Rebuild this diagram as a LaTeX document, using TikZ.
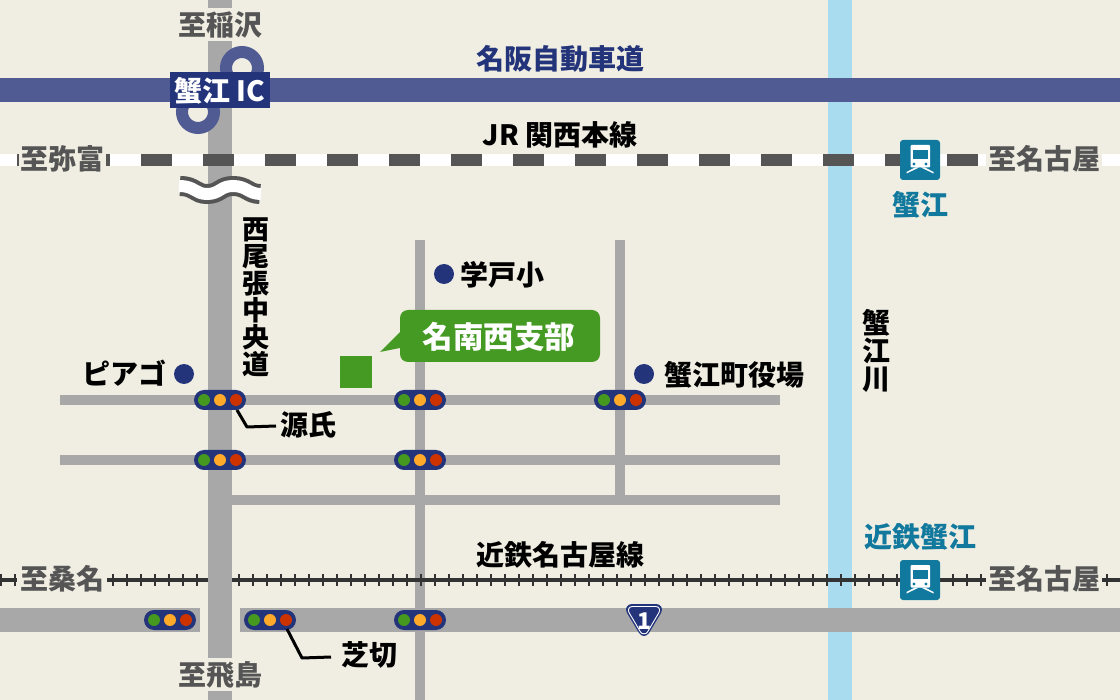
\documentclass[tikz,border=0pt]{standalone}
\usepackage{fontspec}
\setmainfont{Noto Sans CJK JP}
\definecolor{bgc}{HTML}{F0EEE2}
\definecolor{riverc}{HTML}{A9DCEF}
\definecolor{roadc}{HTML}{A8A8A8}
\definecolor{expc}{HTML}{4F5B92}
\definecolor{navy}{HTML}{23347A}
\definecolor{darkg}{HTML}{555555}
\definecolor{railc}{HTML}{333333}
\definecolor{teal2}{HTML}{12799E}
\definecolor{sgreen}{HTML}{46991F}
\definecolor{sorange}{HTML}{FFA92B}
\definecolor{sred}{HTML}{CC3300}
\definecolor{officeg}{HTML}{459A23}
\tikzset{
  lbl/.style={inner sep=0pt,font=\fontsize{#1}{#1}\selectfont\bfseries,text height=0.88*#1 pt,text depth=0.12*#1 pt},
  vlbl/.style={inner sep=0pt,align=center,font=\fontsize{#1}{#1}\selectfont\bfseries},
  hal/.style={fill=bgc,text=darkg,minimum height=33pt},
  road/.style={fill=roadc},
  tick/.style={draw=railc,line width=2.4pt},
  leader/.style={draw=black,line width=3pt,line join=round},
  dotm/.style={circle,fill=navy,minimum size=20pt,inner sep=0pt},
  signalbox/.style={rounded corners=10pt,fill=navy,minimum width=52pt,minimum height=20pt,inner sep=0pt},
}
\newcommand\signal[3]{%
  \node[signalbox] (#1) at (#2,#3) {};
  \fill[sgreen] (#2-16,#3) circle (6);
  \fill[sorange] (#2,#3) circle (6);
  \fill[sred] (#2+16,#3) circle (6);
}
\newcommand\station[3]{%
  \node[fill=teal2,rounded corners=3pt,minimum size=40pt,inner sep=0pt] (#1) at (#2+20,#3+20) {};
  \begin{scope}[shift={(#2,#3)}]
    \fill[white,rounded corners=1pt] (10.5,5) rectangle (30,27.5);
    \fill[teal2] (12.5,10) rectangle (27.5,19);
    \fill[teal2] (14,24) circle (1.6) (26,24) circle (1.6);
    \fill[white] (6.5,33.5) -- (19,27.5) -- (15,27.5) -- (6.5,32) -- cycle;
    \fill[white] (33.5,33.5) -- (21,27.5) -- (25,27.5) -- (33.5,32) -- cycle;
  \end{scope}
}
\begin{document}
\begin{tikzpicture}[x=1pt,y=-1pt]
\useasboundingbox (0,0) rectangle (1120,700);
\fill[bgc] (0,0) rectangle (1120,700);
% river
\fill[riverc] (828,0) rectangle (852,700);
% roads
\fill[road] (60,395) rectangle (780,405);
\fill[road] (60,455) rectangle (780,465);
\fill[road] (232,495) rectangle (780,505);
\fill[road] (415,240) rectangle (425,700);
\fill[road] (615,240) rectangle (625,500);
\fill[road] (0,608) rectangle (200,632);
\fill[road] (240,608) rectangle (1120,632);
\fill[road] (208,0) rectangle (232,700);
% interchange and expressway
\draw[expc,line width=12pt] (242,68) circle (16);
\draw[expc,line width=12pt] (198,112) circle (16);
\fill[expc] (0,78) rectangle (1120,102);
% JR line
\fill[white] (0,154) rectangle (1120,166);
\foreach \x in {17,79,...,1071} \fill[darkg] (\x,154) rectangle (\x+31,166);
% wavy break
\draw[darkg,line width=20pt] (180,186) .. controls (195,186) and (195,194) .. (207,194) .. controls (220,194) and (220,186) .. (233,186) .. controls (247,186) and (248,194) .. (260,194);
\draw[white,line width=12pt] (179,186) .. controls (195,186) and (195,194) .. (207,194) .. controls (220,194) and (220,186) .. (233,186) .. controls (247,186) and (248,194) .. (261,194);
% Kintetsu line
\fill[railc] (0,578) rectangle (208,582);
\fill[railc] (232,578) rectangle (1120,582);
\foreach \x in {0,14,...,196} \draw[tick] (\x+0.7,574) -- (\x+0.7,586);
\foreach \x in {238,252,...,1120} \draw[tick] (\x+0.7,574) -- (\x+0.7,586);
% direction labels
\node[lbl=28,hal,minimum width=88pt] (toinazawa) at (220,24.5) {至稲沢};
\node[lbl=28,hal,minimum width=87pt] (toyatomi) at (62,158.5) {至弥富};
\node[lbl=28,hal,minimum width=116pt] (tonagoya1) at (1044,158.5) {至名古屋};
\node[lbl=28,hal,minimum width=90pt] (tokuwana) at (62,578.5) {至桑名};
\node[lbl=28,hal,minimum width=116pt] (tonagoya2) at (1044,578.5) {至名古屋};
\node[lbl=28,hal,minimum width=88pt] (totobishima) at (220,674.5) {至飛島};
% IC
\node[lbl=28,fill=navy,text=white,minimum width=100pt,minimum height=36pt] (ic) at (220,90.5) {蟹江 IC};
% line names
\node[lbl=28,text=navy] (meihan) at (560,58.5) {名阪自動車道};
\node[lbl=28,text=black] (jr) at (560,134.5) {JR 関西本線};
\node[lbl=28,text=black] (kintetsu) at (560,554.5) {近鉄名古屋線};
\node[vlbl=27,text=black] (nishi) at (256,297) {西\\尾\\張\\中\\央\\道};
\node[vlbl=28,text=black] (kawa) at (876,351) {蟹\\江\\川};
% stations
\station{st1}{900}{140}
\station{st2}{900}{560}
\node[lbl=28,text=teal2] (kanie) at (920,204.5) {蟹江};
\node[lbl=28,text=teal2] (kkanie) at (920,536.5) {近鉄蟹江};
% landmarks
\node[dotm] (d1) at (444,274) {};
\node[lbl=28,anchor=west] (gakko) at (460,274.5) {学戸小};
\node[dotm] (d2) at (184,374) {};
\node[lbl=28,anchor=east] (piago) at (167,374) {ピアゴ};
\node[dotm] (d3) at (644,374) {};
\node[lbl=28,anchor=west] (yakuba) at (664,374.5) {蟹江町役場};
% office
\node[fill=officeg,minimum size=32pt,inner sep=0pt] (office) at (356,372) {};
\fill[officeg] (400,332) -- (380,352) -- (400,348) -- cycle;
\node[lbl=30.5,fill=officeg,text=white,rounded corners=8pt,minimum width=200pt,minimum height=52pt] (meinan) at (500,336) {\kern-2pt\raisebox{-1pt}{名南西支部}};
% signals
\signal{s1}{220}{400}
\signal{s2}{420}{400}
\signal{s3}{620}{400}
\signal{s4}{220}{460}
\signal{s5}{420}{460}
\signal{s6}{170}{620}
\signal{s7}{270}{620}
\signal{s8}{420}{620}
% leaders
\node[lbl=28,anchor=west] (genji) at (280,425) {源氏};
\node[lbl=28,anchor=west] (shiba) at (341,654.5) {芝切};
\draw[leader] (237,410) -- (247,427) -- (276,426);
\draw[leader] (287,629) -- (302,658) -- (331,657);
% route 1 shield
\fill[navy] (632,604) -- (656,604) .. controls (661,604) and (663.5,608.5) .. (661,613) -- (649,633) .. controls (646.5,637) and (641.5,637) .. (639,633) -- (627,613) .. controls (624.5,608.5) and (627,604) .. (632,604) -- cycle;
\draw[white,line width=0.9pt] (632.5,606.5) -- (655.5,606.5) .. controls (659,606.5) and (660.5,609.5) .. (659,612.5) -- (647.5,632) .. controls (646,634.5) and (642,634.5) .. (640.5,632) -- (629,612.5) .. controls (627.5,609.5) and (629,606.5) .. (632.5,606.5) -- cycle;
\node[lbl=23,text=white] (rt1) at (644,620.5) {1};
\end{tikzpicture}
\end{document}
